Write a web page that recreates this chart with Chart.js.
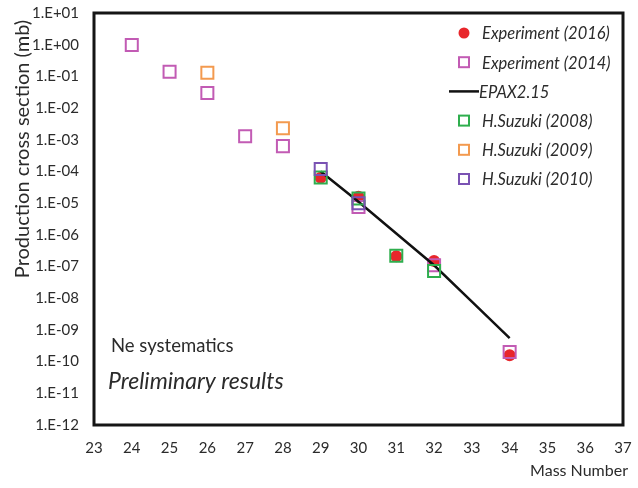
<!DOCTYPE html>
<html>
<head>
<meta charset="utf-8">
<script src="https://cdn.jsdelivr.net/npm/chart.js@4/dist/chart.umd.min.js"></script>
<style>
  html, body { margin: 0; padding: 0; background: #fff; }
  #wrap { width: 638px; height: 488px; position: relative; }
</style>
</head>
<body>
<div id="wrap"><canvas id="xsChart"></canvas></div>
<script>
// ── Ne isotopes: production cross sections vs mass number ──────────────────

const exp2016Mass   = [29, 30, 31, 32, 34];
const exp2016Xs     = [6.3e-5, 1.6e-5, 2.1e-7, 1.5e-7, 1.6e-10];

const exp2014Mass   = [24, 25, 26, 27, 28, 30, 32, 34];
const exp2014Xs     = [9.8e-1, 1.4e-1, 3.0e-2, 1.3e-3, 6.3e-4, 7.6e-6, 1.1e-7, 2.0e-10];

const epaxMass      = [29, 30, 31, 32, 33, 34];
const epaxXs        = [1.0e-4, 1.1e-5, 1.1e-6, 1.1e-7, 7.8e-9, 5.5e-10];

const suzuki2008Mass = [29, 30, 31, 32];
const suzuki2008Xs   = [6.5e-5, 1.4e-5, 2.2e-7, 7.2e-8];

const suzuki2009Mass = [26, 28];
const suzuki2009Xs   = [1.3e-1, 2.3e-3];

const suzuki2010Mass = [29, 30];
const suzuki2010Xs   = [1.2e-4, 1.0e-5];

const yDecades = [1e1, 1e0, 1e-1, 1e-2, 1e-3, 1e-4, 1e-5, 1e-6, 1e-7, 1e-8, 1e-9, 1e-10, 1e-11, 1e-12];

const FONT = 'Lato, "Open Sans", sans-serif';
const TEXT = '#2b2b2b';

const pts = (xs, ys) => xs.map((x, i) => ({ x, y: ys[i] }));

function sciLabel(v) {
  const e = Math.round(Math.log10(v));
  return '1.E' + (e >= 0 ? '+' : '-') + String(Math.abs(e)).padStart(2, '0');
}

const series = [
  { label: 'Experiment (2016)', data: pts(exp2016Mass, exp2016Xs), style: 'circle', color: '#e8262b', fill: true, order: 6 },
  { label: 'Experiment (2014)', data: pts(exp2014Mass, exp2014Xs), style: 'rect', color: '#c25bb4', order: 5 },
  { label: 'EPAX2.15',          data: pts(epaxMass, epaxXs),       style: 'line', color: '#111111', order: 4 },
  { label: 'H.Suzuki (2008)',   data: pts(suzuki2008Mass, suzuki2008Xs), style: 'rect', color: '#2fae4e', order: 3 },
  { label: 'H.Suzuki (2009)',   data: pts(suzuki2009Mass, suzuki2009Xs), style: 'rect', color: '#f39a4f', order: 2 },
  { label: 'H.Suzuki (2010)',   data: pts(suzuki2010Mass, suzuki2010Xs), style: 'rect', color: '#7a52b3', order: 1 }
];

const datasets = series.map(s => s.style === 'line'
  ? { type: 'line', label: s.label, data: s.data, borderColor: s.color, borderWidth: 2.5,
      pointRadius: 0, showLine: true, fill: false, tension: 0, order: s.order }
  : { type: 'scatter', label: s.label, data: s.data, pointStyle: s.style,
      pointRadius: s.style === 'circle' ? 6 : 8.5, pointHoverRadius: s.style === 'circle' ? 6 : 8.5,
      backgroundColor: s.fill ? s.color : 'rgba(255,255,255,0)',
      borderColor: s.color, borderWidth: s.fill ? 0 : 2, order: s.order });

// frame, in-plot legend, annotations and axis titles
const decorPlugin = {
  id: 'decor',
  afterDraw(chart) {
    const { ctx, chartArea: a } = chart;
    ctx.save();
    ctx.strokeStyle = '#151515';
    ctx.lineWidth = 3;
    ctx.strokeRect(a.left, a.top, a.right - a.left, a.bottom - a.top);

    // legend
    const mx = 464, tx = 482, y0 = 33, dy = 29.2;
    ctx.textBaseline = 'middle';
    ctx.textAlign = 'left';
    ctx.font = 'italic 16.5px ' + FONT;
    series.forEach((s, i) => {
      const y = y0 + i * dy;
      if (s.style === 'circle') {
        ctx.fillStyle = s.color;
        ctx.beginPath(); ctx.arc(mx, y, 5.5, 0, Math.PI * 2); ctx.fill();
      } else if (s.style === 'rect') {
        ctx.strokeStyle = s.color; ctx.lineWidth = 2;
        ctx.strokeRect(mx - 5, y - 5, 10, 10);
      } else {
        ctx.strokeStyle = s.color; ctx.lineWidth = 2.5;
        ctx.beginPath(); ctx.moveTo(449, y); ctx.lineTo(479, y); ctx.stroke();
      }
      ctx.fillStyle = TEXT;
      ctx.fillText(s.label, s.style === 'line' ? 479 : tx, y + 1);
    });

    // notes inside the plot
    ctx.font = '18.5px ' + FONT;
    ctx.fillText('Ne systematics', 111, 346);
    ctx.font = 'italic 23px ' + FONT;
    ctx.fillText('Preliminary results', 108, 382);

    // axis titles
    ctx.font = '16px ' + FONT;
    ctx.textAlign = 'right';
    ctx.fillText('Mass Number', 628, 471);
    ctx.translate(23, 149);
    ctx.rotate(-Math.PI / 2);
    ctx.textAlign = 'center';
    ctx.font = '20px ' + FONT;
    ctx.fillText('Production cross section (mb)', 0, 0);
    ctx.restore();
  }
};

new Chart(document.getElementById('xsChart'), {
  data: { datasets },
  options: {
    responsive: true,
    maintainAspectRatio: false,
    animation: false,
    layout: { padding: { top: 13, right: 15, left: 0, bottom: 0 } },
    plugins: { legend: { display: false }, tooltip: { enabled: false } },
    scales: {
      x: {
        type: 'linear', min: 23, max: 37,
        grid: { display: false, drawTicks: false },
        border: { display: false },
        ticks: { stepSize: 1, padding: 14, color: TEXT, font: { family: FONT, size: 15 } },
        afterFit: s => { s.height = 63; s.paddingLeft = 0; s.paddingRight = 0; }
      },
      y: {
        type: 'logarithmic', min: 1e-12, max: 1e1,
        grid: { display: false, drawTicks: false },
        border: { display: false },
        afterBuildTicks: s => { s.ticks = yDecades.map(v => ({ value: v })); },
        ticks: { padding: 15, color: TEXT, font: { family: FONT, size: 15 }, callback: v => sciLabel(v) },
        afterFit: s => { s.width = 94; s.paddingTop = 0; s.paddingBottom = 0; }
      }
    }
  },
  plugins: [decorPlugin]
});
</script>
</body>
</html>
